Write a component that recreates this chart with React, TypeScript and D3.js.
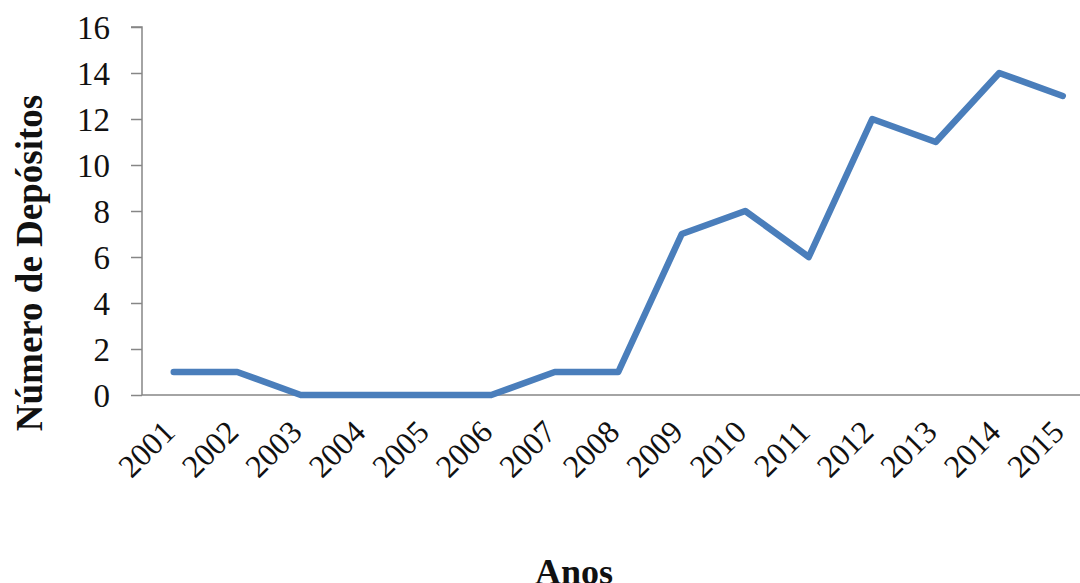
import React, { useRef, useEffect } from 'react';
import * as d3 from 'd3';

const years = ['2001', '2002', '2003', '2004', '2005', '2006', '2007', '2008', '2009', '2010', '2011', '2012', '2013', '2014', '2015'];
const deposits = [1, 1, 0, 0, 0, 0, 1, 1, 7, 8, 6, 12, 11, 14, 13];
const yTicks = [0, 2, 4, 6, 8, 10, 12, 14, 16];

const FONT = '"Liberation Serif", "Times New Roman", serif';

export default function App() {
  const ref = useRef<SVGSVGElement | null>(null);

  useEffect(() => {
    const svg = d3.select(ref.current);
    svg.selectAll('*').remove();

    const W = 1080;
    const H = 583;
    const left = 142;
    const top = 27;
    const bottom = 395;
    const band = 63.5;

    const x = d3.scaleBand<string>()
      .domain(years)
      .range([left, left + band * years.length])
      .padding(0);

    const y = d3.scaleLinear()
      .domain([0, 16])
      .range([bottom, top]);

    svg.attr('width', W).attr('height', H);

    // Y axis
    const yAxis = svg.append('g')
      .attr('transform', `translate(${left},0)`)
      .call(d3.axisLeft(y).tickValues(yTicks).tickSize(11).tickPadding(21));
    yAxis.select('.domain').attr('stroke', '#868686').attr('stroke-width', 1.5)
      .attr('d', `M-11,${top}H0V${bottom}`);
    yAxis.selectAll('.tick line').attr('stroke', '#868686').attr('stroke-width', 1.5);
    yAxis.selectAll('.tick text')
      .attr('font-family', FONT)
      .attr('font-size', 33)
      .attr('fill', '#111')
      .attr('dy', '0.34em');

    // X axis line
    svg.append('line')
      .attr('x1', left)
      .attr('x2', W + 20)
      .attr('y1', y(0))
      .attr('y2', y(0))
      .attr('stroke', '#868686')
      .attr('stroke-width', 1.5);

    // X tick labels
    svg.append('g')
      .selectAll('text')
      .data(years)
      .join('text')
      .attr('transform', d => `translate(${x(d)! + x.bandwidth() / 2 + 3},${bottom + 39}) rotate(-45)`)
      .attr('text-anchor', 'end')
      .attr('font-family', FONT)
      .attr('font-size', 32)
      .attr('fill', '#111')
      .text(d => d);

    // Line
    const line = d3.line<number>()
      .x((_, i) => x(years[i])! + x.bandwidth() / 2)
      .y(d => y(d));

    svg.append('path')
      .datum(deposits)
      .attr('d', line)
      .attr('fill', 'none')
      .attr('stroke', '#4A7EBB')
      .attr('stroke-width', 6.5)
      .attr('stroke-linejoin', 'round')
      .attr('stroke-linecap', 'round');

    // Axis titles
    svg.append('text')
      .attr('transform', `translate(42,263) rotate(-90)`)
      .attr('text-anchor', 'middle')
      .attr('font-family', FONT)
      .attr('font-weight', 'bold')
      .attr('font-size', 37)
      .attr('fill', '#111')
      .text('Número de Depósitos');

    svg.append('text')
      .attr('x', 574)
      .attr('y', 584)
      .attr('text-anchor', 'middle')
      .attr('font-family', FONT)
      .attr('font-weight', 'bold')
      .attr('font-size', 36)
      .attr('fill', '#111')
      .text('Anos');
  }, []);

  return <svg ref={ref} style={{ position: 'absolute', left: 0, top: 0, display: 'block', background: '#fff' }} />;
}
